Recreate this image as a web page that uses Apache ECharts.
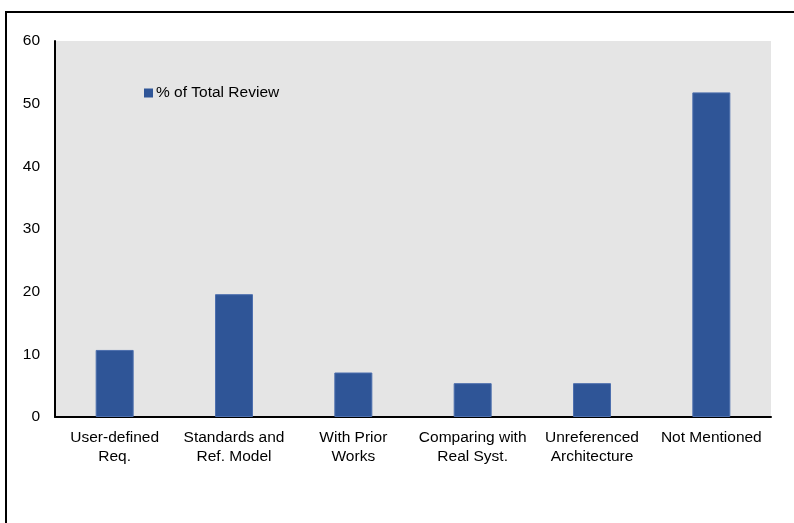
<!DOCTYPE html>
<html><head><meta charset="utf-8">
<script src="https://cdn.jsdelivr.net/npm/echarts@6/dist/echarts.min.js"></script>
<style>html,body{margin:0;padding:0;background:#fff;}#c{width:794px;height:523px;}</style>
</head><body><div id="c"></div>
<script>
const categories = ['User-defined\nReq.', 'Standards and\nRef. Model', 'With Prior\nWorks', 'Comparing with\nReal Syst.', 'Unreferenced\nArchitecture', 'Not Mentioned'];
const seriesName = '% of Total Review';
const values = [10.7, 19.6, 7.1, 5.4, 5.4, 51.8];
const yTicks = [0, 10, 20, 30, 40, 50, 60];

const chart = echarts.init(document.getElementById('c'), null, {renderer: 'canvas'});
const font = 'Liberation Sans, Arial, sans-serif';
chart.setOption({
  animation: false,
  backgroundColor: '#fff',
  textStyle: {fontFamily: font},
  graphic: [
    {type: 'line', shape: {x1: 5, y1: 12, x2: 794, y2: 12}, style: {stroke: '#000', lineWidth: 2}},
    {type: 'line', shape: {x1: 6, y1: 11, x2: 6, y2: 523}, style: {stroke: '#000', lineWidth: 2}}
  ],
  grid: {left: 55, right: 23, top: 41, bottom: 106, show: true, backgroundColor: '#e5e5e5', borderWidth: 0},
  legend: {
    left: 144, top: 85, padding: 0, itemWidth: 9, itemHeight: 9, itemGap: 5,
    data: [{name: seriesName, icon: 'rect'}],
    itemStyle: {borderWidth: 0},
    textStyle: {fontSize: 15.5, color: '#000', fontFamily: font, padding: [0, 0, 0, -2]}
  },
  xAxis: {
    type: 'category', data: categories,
    axisLine: {lineStyle: {color: '#000', width: 2}},
    axisTick: {show: false},
    axisLabel: {color: '#000', fontSize: 15.5, lineHeight: 19, margin: 11, interval: 0, fontFamily: font}
  },
  yAxis: {
    type: 'value', min: 0, max: 60, interval: 10,
    axisLine: {show: true, lineStyle: {color: '#000', width: 2}},
    axisTick: {show: false},
    splitLine: {show: false},
    axisLabel: {color: '#000', fontSize: 15.5, margin: 15, fontFamily: font,
      formatter: v => yTicks.includes(v) ? String(v) : ''}
  },
  series: [{
    name: seriesName, type: 'bar', data: values, barWidth: 38,
    itemStyle: {color: '#2f5597', borderColor: '#4d6fae', borderWidth: 1}
  }]
});
</script></body></html>
